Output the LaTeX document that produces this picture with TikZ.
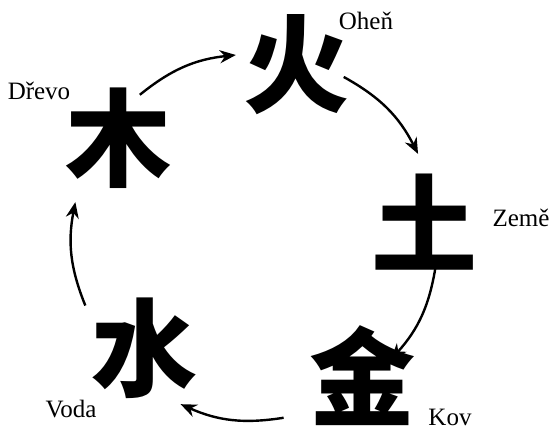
\documentclass[tikz,border=0pt]{standalone}
\usepackage{fontspec}
\setmainfont{Liberation Serif}
\newfontfamily\cjk{Noto Sans CJK SC}
\usetikzlibrary{arrows.meta,calc}
\begin{document}
\begin{tikzpicture}[x=1pt,y=-1pt,
  elem/.style={inner sep=0pt, font=\cjk\bfseries\fontsize{106}{106}\selectfont},
  lbl/.style={inner sep=0pt, font=\fontsize{25}{28}\selectfont},
  flow/.style={line width=2.4pt, -{Stealth[length=16pt,width=13pt]}}]
\useasboundingbox (0,0) rectangle (551,431);
% elements
\node[elem] (fire)  at (296,65)  {火};
\node[elem] (earth) at (424,222) {土};
\node[elem] (metal) at (362,376) {金};
\node[elem] (water) at (144,348) {水};
\node[elem] (wood)  at (118,138) {木};
% labels
\node[lbl] (lfire)  at (366,21)  {Oheň};
\node[lbl] (learth) at (521,218) {Země};
\node[lbl] (lmetal) at (450,417) {Kov};
\node[lbl] (lwater) at (71,409)  {Voda};
\node[lbl] (lwood)  at (39,91)   {Dřevo};
% arrows on a circle
\coordinate (c) at (255,237);
\coordinate (a1s) at ($(c)+(129:183pt)$);
\coordinate (a1e) at ($(c)+(96:183pt)$);
\coordinate (a2s) at ($(c)+(61:183pt)$);
\coordinate (a2e) at ($(c)+(27:183pt)$);
\coordinate (a3s) at ($(c)+(-9:183pt)$);
\coordinate (a3e) at ($(c)+(-42:183pt)$);
\coordinate (a4s) at ($(c)+(-81:183pt)$);
\coordinate (a4e) at ($(c)+(-114:183pt)$);
\coordinate (a5s) at ($(c)+(-158:183pt)$);
\coordinate (a5e) at ($(c)+(-191:183pt)$);
\draw[flow] (a1s) to[bend left=16.5] (a1e);
\draw[flow] (a2s) to[bend left=17] (a2e);
\draw[flow] (a3s) to[bend left=16.5] (a3e);
\draw[flow] (a4s) to[bend left=16.5] (a4e);
\draw[flow] (a5s) to[bend left=16.5] (a5e);
\end{tikzpicture}
\end{document}
